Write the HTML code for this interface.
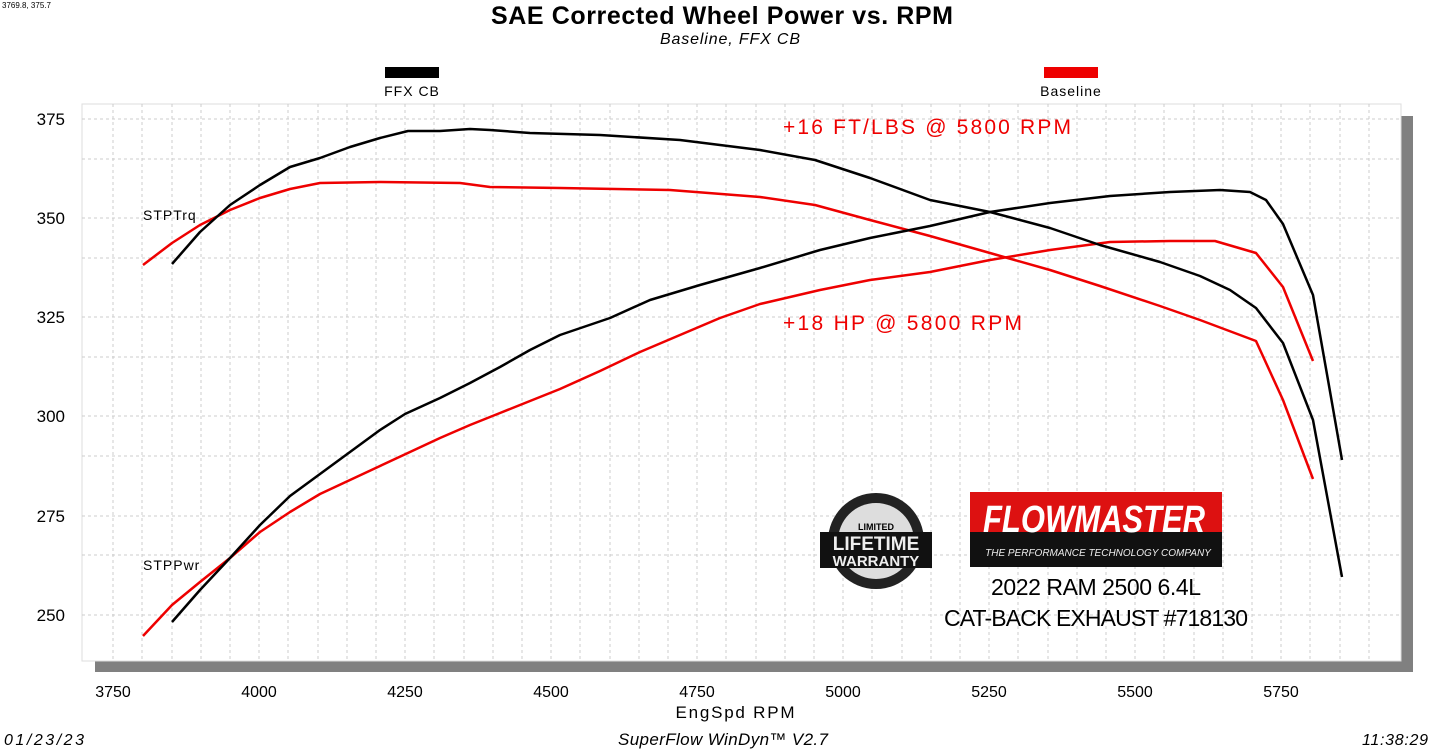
<!DOCTYPE html>
<html><head><meta charset="utf-8"><style>
body{margin:0;background:#fff;width:1445px;height:750px;overflow:hidden;font-family:"Liberation Sans",sans-serif}
</style></head><body>
<svg width="1445" height="750" xmlns="http://www.w3.org/2000/svg" font-family="Liberation Sans, sans-serif">
<text x="2" y="8" font-size="8">3769.8, 375.7</text>
<text x="722" y="24" font-size="25" font-weight="bold" text-anchor="middle" textLength="462">SAE Corrected Wheel Power vs. RPM</text>
<text x="730" y="44" font-size="16" font-style="italic" text-anchor="middle" textLength="140">Baseline, FFX CB</text>
<rect x="385" y="67" width="54" height="11" fill="#000"/>
<text x="412" y="96" font-size="14" text-anchor="middle" letter-spacing="1">FFX CB</text>
<rect x="1044" y="67" width="54" height="11" fill="#e00"/>
<text x="1071" y="96" font-size="14" text-anchor="middle" letter-spacing="1">Baseline</text>
<rect x="95" y="116" width="1318" height="556" fill="#808080"/>
<rect x="82" y="104" width="1319" height="557" fill="#fff" stroke="#ddd"/>
<g stroke="#ccc" stroke-dasharray="3,3" stroke-width="1">
<path d="M113 104V661M142 104V661M172 104V661M201 104V661M230 104V661M259 104V661M288 104V661M318 104V661M347 104V661M376 104V661M405 104V661M434 104V661M464 104V661M493 104V661M522 104V661M551 104V661M580 104V661M610 104V661M639 104V661M668 104V661M697 104V661M726 104V661M756 104V661M785 104V661M814 104V661M843 104V661M872 104V661M902 104V661M931 104V661M960 104V661M989 104V661M1018 104V661M1048 104V661M1077 104V661M1106 104V661M1135 104V661M1164 104V661M1194 104V661M1223 104V661M1252 104V661M1281 104V661M1310 104V661M1340 104V661M1369 104V661"/>
<path d="M82 119H1401M82 159H1401M82 218H1401M82 258H1401M82 317H1401M82 357H1401M82 416H1401M82 456H1401M82 516H1401M82 555H1401M82 615H1401"/>
</g>
<g font-size="17" text-anchor="end">
<text x="65" y="125">375</text><text x="65" y="224">350</text><text x="65" y="323">325</text><text x="65" y="422">300</text><text x="65" y="522">275</text><text x="65" y="621">250</text>
</g>
<g font-size="16" text-anchor="middle">
<text x="113" y="697">3750</text><text x="259" y="697">4000</text><text x="405" y="697">4250</text><text x="551" y="697">4500</text><text x="697" y="697">4750</text><text x="843" y="697">5000</text><text x="989" y="697">5250</text><text x="1135" y="697">5500</text><text x="1281" y="697">5750</text>
</g>
<text x="735" y="718" font-size="17" text-anchor="middle" textLength="119">EngSpd  RPM</text>
<text x="4" y="745" font-size="16" font-style="italic" textLength="80">01/23/23</text>
<text x="723" y="745" font-size="17" font-style="italic" text-anchor="middle" textLength="210">SuperFlow WinDyn™  V2.7</text>
<text x="1428" y="745" font-size="16" font-style="italic" text-anchor="end" textLength="66">11:38:29</text>
<text x="143" y="220" font-size="14" letter-spacing="1">STPTrq</text>
<text x="143" y="570" font-size="14" letter-spacing="1">STPPwr</text>
<g fill="none" stroke-width="2.5" stroke-linejoin="round">
<polyline stroke="#e00" points="143,265 172,243 200,225 230,210 260,198 290,189 320,183 380,182 460,183 490,187 560,188 670,190 760,197 815,205 870,220 930,236 990,253 1050,270 1100,286 1160,306 1200,320 1256,341 1283,400 1313,479"/>
<polyline stroke="#e00" points="143,636 172,605 200,582 230,558 260,532 290,512 320,494 350,480 380,466 410,452 440,438 470,425 500,413 530,401 560,389 600,371 640,352 680,335 720,318 760,304 820,290 870,280 930,272 990,260 1050,250 1110,242 1170,241 1215,241 1256,253 1283,287 1313,361"/>
<polyline stroke="#000" points="172,264 200,232 230,205 260,185 290,167 320,158 350,147 380,138 408,131 440,131 470,129 490,130 530,133 600,135 680,140 760,150 815,160 870,178 930,200 990,212 1050,228 1100,245 1160,262 1200,276 1230,290 1256,308 1283,343 1313,420 1342,577"/>
<polyline stroke="#000" points="172,622 200,590 230,558 260,525 290,496 320,474 350,452 380,430 405,414 440,398 470,383 500,367 530,350 560,335 610,318 650,300 700,285 760,268 820,250 870,238 930,226 990,212 1050,203 1110,196 1170,192 1220,190 1250,192 1266,200 1283,224 1313,295 1328,380 1342,460"/>
</g>
<text x="783" y="134" font-size="21" fill="#e00" textLength="288">+16 FT/LBS @ 5800 RPM</text>
<text x="783" y="330" font-size="21" fill="#e00" textLength="239">+18 HP @ 5800 RPM</text>
<g>
<circle cx="876" cy="541" r="48" fill="#222"/>
<circle cx="876" cy="541" r="38" fill="#ddd"/>
<rect x="820" y="532" width="112" height="36" fill="#111"/>
<text x="876" y="550" font-size="19" font-weight="bold" fill="#eee" text-anchor="middle">LIFETIME</text>
<text x="876" y="566" font-size="15" font-weight="bold" fill="#eee" text-anchor="middle">WARRANTY</text>
<text x="876" y="530" font-size="9" font-weight="bold" text-anchor="middle">LIMITED</text>
</g>
<rect x="970" y="492" width="252" height="75" fill="#111"/>
<rect x="970" y="492" width="252" height="40" fill="#d11"/>
<text x="983" y="532" font-size="38" font-weight="bold" font-style="italic" fill="#fff" textLength="222" lengthAdjust="spacingAndGlyphs">FLOWMASTER</text>
<text x="1098" y="556" font-size="10" font-style="italic" fill="#eee" text-anchor="middle">THE PERFORMANCE TECHNOLOGY COMPANY</text>
<text x="1096" y="595" font-size="23" text-anchor="middle" textLength="210">2022 RAM 2500 6.4L</text>
<text x="1096" y="626" font-size="23" text-anchor="middle" textLength="304">CAT-BACK EXHAUST #718130</text>
</svg>
</body></html>
